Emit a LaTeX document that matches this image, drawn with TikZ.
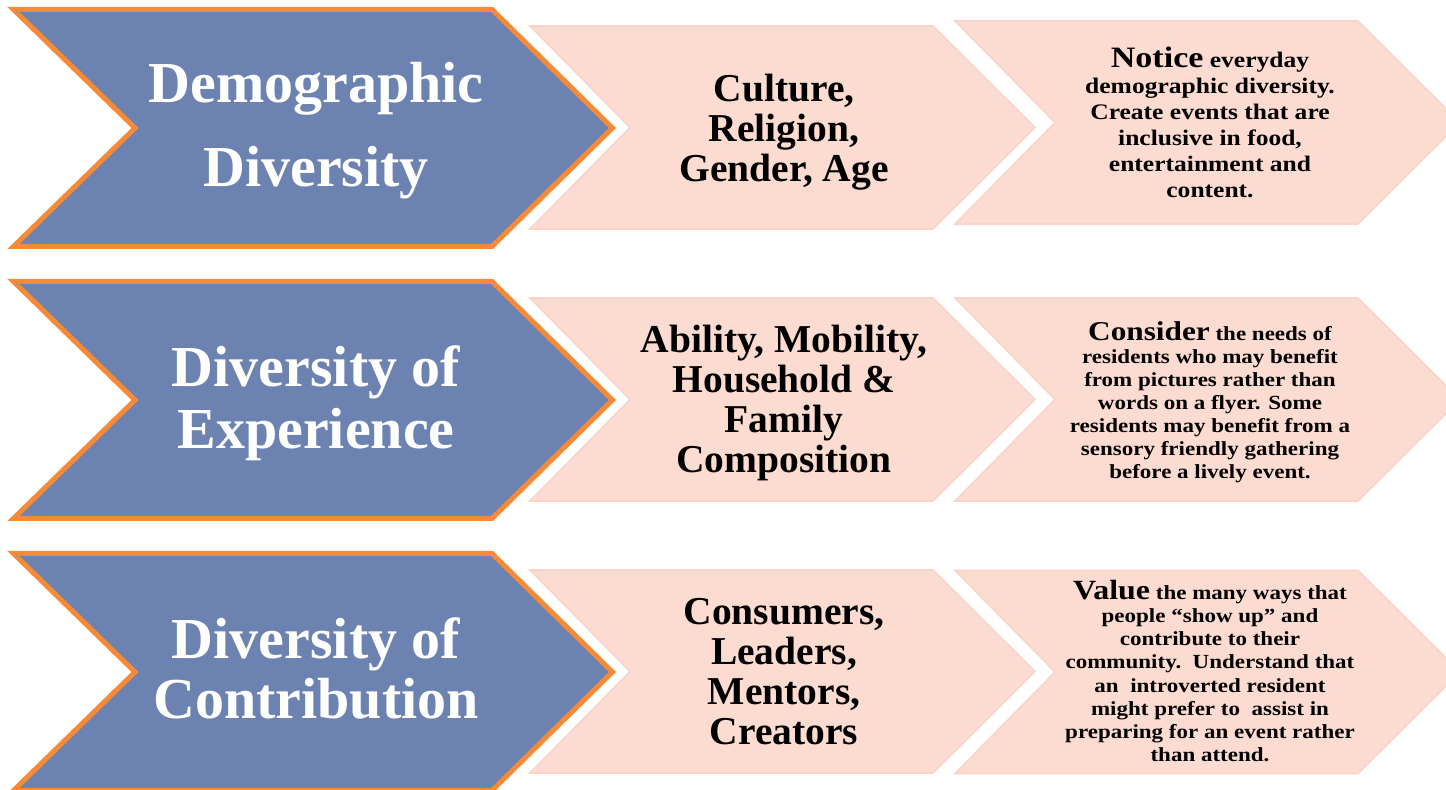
\documentclass[tikz,border=0pt]{standalone}
\usepackage{fontspec}
\setmainfont{Liberation Serif}
\newfontfamily\widefont{Liberation Serif}[FakeStretch=1.15]

\definecolor{chevblue}{RGB}{108,131,178}
\definecolor{chevorange}{RGB}{247,138,54}
\definecolor{chevpink}{RGB}{252,219,209}
\definecolor{chevpinkedge}{RGB}{250,212,200}

% Blue heading chevron with orange outline; #1 = centre y
\newcommand{\headchevron}[1]{%
  \path[headshape] (13.5,{#1-118.5}) -- (492,{#1-118.5}) -- (612.5,#1)
    -- (492,{#1+118.5}) -- (13.5,{#1+118.5}) -- (135,#1) -- cycle;}
% Pink chevron; #1 = left x, #2 = centre y
\newcommand{\itemchevron}[2]{%
  \path[itemshape] (#1,{#2-101.5}) -- ({#1+403},{#2-101.5}) -- ({#1+505},#2)
    -- ({#1+403},{#2+101.5}) -- (#1,{#2+101.5}) -- ({#1+100},#2) -- cycle;}

\begin{document}
\begin{tikzpicture}[x=0.5pt,y=-0.5pt,
  headshape/.style={fill=chevblue, draw=chevorange, line width=2.5pt, miter limit=10},
  itemshape/.style={fill=chevpink, draw=chevpinkedge, line width=0.8pt},
  headtext/.style={text=white, align=center, inner sep=0pt},
  keytext/.style={text=black, align=center, inner sep=0pt,
    font=\bfseries\fontsize{19.75}{20}\selectfont},
  notetext/.style={text=black, align=center, inner sep=0pt}]
\useasboundingbox (0,0) rectangle (1446,790);
\clip (0,0) rectangle (1446,790);

% chevrons, one row per kind of diversity
\headchevron{128}
\itemchevron{530}{127.5}
\itemchevron{955}{122.5}

\headchevron{400}
\itemchevron{530}{399.5}
\itemchevron{955}{399.5}

\headchevron{672}
\itemchevron{530}{671.5}
\itemchevron{955}{672}

% row 1
\node[headtext, font=\bfseries\fontsize{29}{42}\selectfont] (head1) at (316,131)
  {Demographic\\Diversity};
\node[keytext] (key1) at (784,132) {Culture,\\Religion,\\Gender, Age};
\node[notetext, font=\widefont\bfseries\fontsize{11.1}{13}\selectfont] (note1) at (1210,122)
  {{\fontsize{14.8}{13}\selectfont Notice} everyday\\demographic diversity.\\Create events that are\\inclusive in food,\\entertainment and\\content.};

% row 2
\node[headtext, font=\bfseries\fontsize{29}{31}\selectfont] (head2) at (316,403)
  {Diversity of\\Experience};
\node[keytext] (key2) at (784,403) {Ability, Mobility,\\Household \&\\Family\\Composition};
\node[notetext, font=\widefont\bfseries\fontsize{10}{11.5}\selectfont] (note2) at (1210,402)
  {{\fontsize{13.6}{11.5}\selectfont Consider} the needs of\\residents who may benefit\\from pictures rather than\\words on a flyer. Some\\residents may benefit from a\\sensory friendly gathering\\before a lively event.};

% row 3
\node[headtext, font=\bfseries\fontsize{29}{30}\selectfont] (head3) at (316,668)
  {Diversity of\\Contribution};
\node[keytext] (key3) at (784,672) {Consumers,\\Leaders,\\Mentors,\\Creators};
\node[notetext, font=\widefont\bfseries\fontsize{10}{11.6}\selectfont] (note3) at (1210,671)
  {{\fontsize{13.9}{11.6}\selectfont Value} the many ways that\\people “show up” and\\contribute to their\\community.\ \ Understand that\\an\ \ introverted resident\\might prefer to\ \ assist in\\preparing for an event rather\\than attend.};
\end{tikzpicture}
\end{document}
